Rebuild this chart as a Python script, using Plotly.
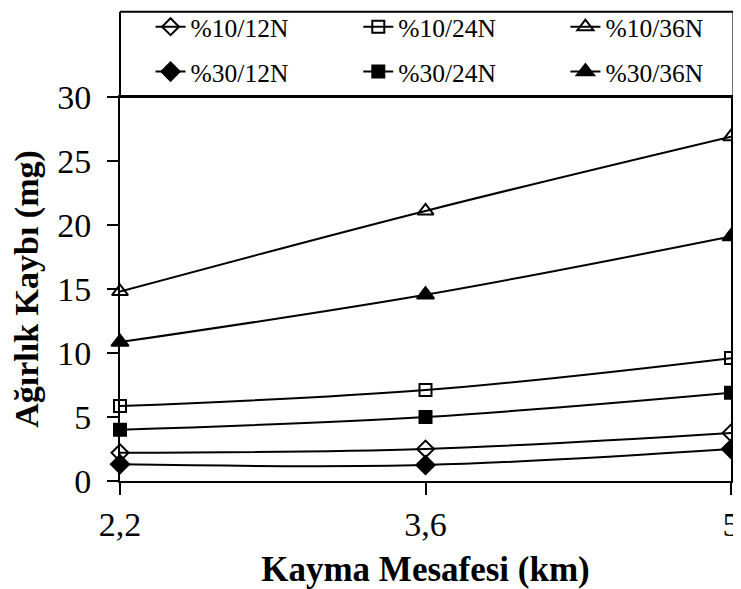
import plotly.graph_objects as go

x_km = [2.2, 3.6, 5.0]
x_tick_vals = [2.2, 3.6, 5.0]
x_tick_text = ["2,2", "3,6", "5"]
y_tick_vals = [0, 5, 10, 15, 20, 25, 30]

s10_12 = [2.2, 2.5, 3.75]
s10_24 = [5.85, 7.1, 9.6]
s10_36 = [14.8, 21.1, 26.9]
s30_12 = [1.3, 1.25, 2.5]
s30_24 = [4.0, 5.0, 6.9]
s30_36 = [10.85, 14.55, 19.1]

series = [
    ("%10/12N", s10_12, "diamond-open", 13),
    ("%10/24N", s10_24, "square-open", 12),
    ("%10/36N", s10_36, "triangle-up-open", 14),
    ("%30/12N", s30_12, "diamond", 14),
    ("%30/24N", s30_24, "square", 12),
    ("%30/36N", s30_36, "triangle-up", 15),
]

# legend slots: column x (paper), row y (paper)
leg_cols = [0.05, 0.39, 0.729]
leg_rows = [1.182, 1.065]

font_fam = "Liberation Serif, Times New Roman, serif"

fig = go.Figure()
legend_layouts = {}
for i, (name, vals, sym, size) in enumerate(series):
    lg = "legend" if i == 0 else f"legend{i + 1}"
    fig.add_trace(go.Scatter(
        x=x_km, y=vals, name=name, mode="lines+markers",
        line=dict(color="black", width=2, shape="spline", smoothing=1),
        marker=dict(symbol=sym, size=size, color="black",
                    line=dict(color="black", width=2)),
        cliponaxis=False, legend=lg,
    ))
    legend_layouts[lg] = dict(
        orientation="h", x=leg_cols[i % 3], y=leg_rows[i // 3],
        xanchor="left", yanchor="middle",
        font=dict(size=25.5, family=font_fam, color="black"),
        bgcolor="rgba(0,0,0,0)", borderwidth=0,
    )

# legend frame edges (paper coordinates)
box_x0, box_x1 = 0.0, 1.004
box_y0, box_y1 = 1.0, 1.222
frame = dict(color="black", width=2)
box_shapes = [
    dict(type="line", xref="paper", yref="paper", x0=box_x0, x1=box_x1, y0=box_y1, y1=box_y1, line=frame),
    dict(type="line", xref="paper", yref="paper", x0=box_x1, x1=box_x1, y0=box_y0, y1=box_y1, line=frame),
    dict(type="line", xref="paper", yref="paper", x0=box_x0, x1=box_x0, y0=box_y0, y1=box_y1, line=frame),
    dict(type="line", xref="paper", yref="paper", x0=box_x0, x1=box_x1, y0=box_y0, y1=box_y0, line=frame),
]

# page body has an 8px margin: figure is 733x581 placed at (8, 8)
fig.update_layout(
    width=733, height=581,
    margin=dict(l=112, r=10, t=89, b=108, autoexpand=False),
    paper_bgcolor="white", plot_bgcolor="white",
    font=dict(family=font_fam, color="black"),
    showlegend=True,
    xaxis=dict(range=[2.2, 5.0], tickvals=x_tick_vals, ticktext=x_tick_text,
               automargin=False, ticklabeloverflow="allow",
               showgrid=False, zeroline=False, showline=True, linecolor="black",
               linewidth=2, mirror=True, ticks="outside", ticklen=12, tickwidth=2,
               tickcolor="black", tickfont=dict(size=34, family=font_fam),
               title=dict(text="<b>Kayma Mesafesi (km)</b>", font=dict(size=35, family=font_fam),
                          standoff=17)),
    yaxis=dict(range=[0, 30], tickvals=y_tick_vals, automargin=False,
               showgrid=False, zeroline=False, showline=True, linecolor="black",
               linewidth=2, mirror=True, ticks="outside", ticklen=11, tickwidth=2,
               tickcolor="black", tickfont=dict(size=34, family=font_fam),
               ticklabelstandoff=9,
               title=dict(text="<b>Ağırlık Kaybı (mg)</b>", font=dict(size=34, family=font_fam),
                          standoff=12)),
    yaxis2=dict(range=[0, 30], tickvals=y_tick_vals, overlaying="y", side="left",
                automargin=False,
                showgrid=False, zeroline=False, showline=False, ticks="inside",
                ticklen=5, tickwidth=2, tickcolor="black", showticklabels=False),
    shapes=box_shapes,
    **legend_layouts,
)

fig.write_html("out.html")
